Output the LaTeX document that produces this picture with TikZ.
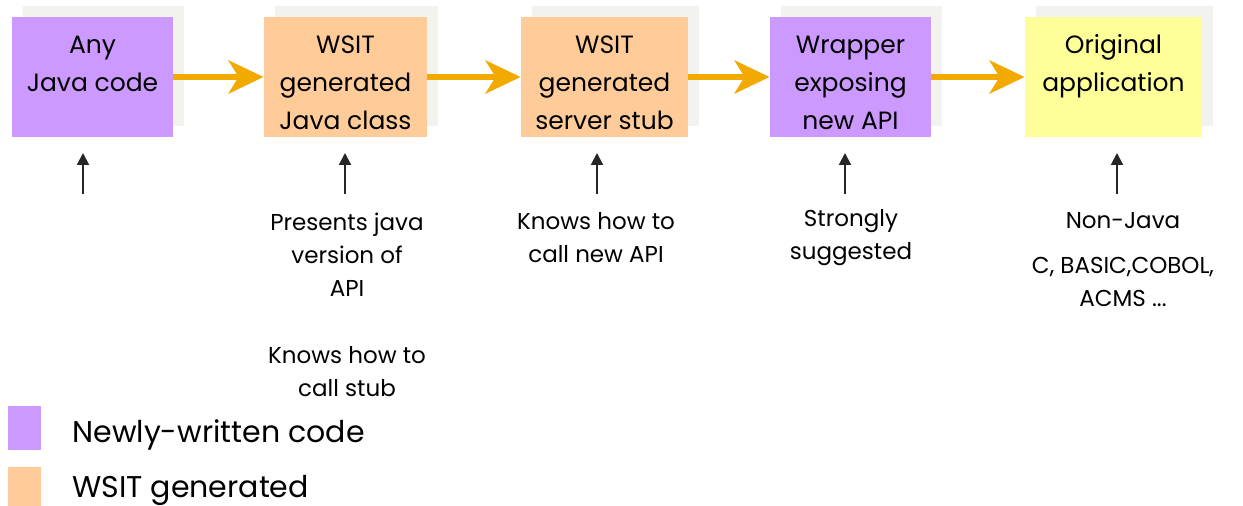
\documentclass[tikz,border=0pt]{standalone}
\usepackage{fontspec}
\setmainfont{Poppins}
\usetikzlibrary{arrows.meta,shadows,positioning}

\definecolor{newcode}{HTML}{CC99FF}
\definecolor{wsitgen}{HTML}{FFCC99}
\definecolor{origapp}{HTML}{FFFF99}
\definecolor{shade}{HTML}{F2F2EE}
\definecolor{flow}{HTML}{F2A900}

% box text hangs from its first line
\newcommand\blktext[1]{\begin{tabular}[t]{@{}c@{}}#1\end{tabular}}

\tikzset{
  blk/.style={minimum height=60pt, inner sep=0pt,
    text height=18.25pt, text depth=41.75pt,
    font=\fontsize{12.5}{18.9}\selectfont,
    general shadow={fill=shade, shadow xshift=5.5pt, shadow yshift=5.5pt}},
  flowarrow/.style={draw=flow, line width=3.2pt,
    -{Stealth[length=17.5pt,width=16.5pt,inset=5pt,fill=flow]}},
  uparr/.style={draw=black!85, line width=1pt, -{Triangle[length=6pt,width=6pt]}},
  note/.style={align=center, inner sep=0pt, font=\fontsize{11.5}{16.5}\selectfont},
  legsq/.style={minimum width=16.5pt, minimum height=22pt, inner sep=0pt},
  legtext/.style={inner sep=0pt, anchor=base west, font=\fontsize{15}{18}\selectfont},
}

\begin{document}
\begin{tikzpicture}[x=0.5pt,y=-0.5pt]
\useasboundingbox (0,0) rectangle (1243,506);

% the chain
\node[blk, fill=newcode, minimum width=80.5pt] (java)    at (92.5,77)   {\blktext{Any\\Java code}};
\node[blk, fill=wsitgen, minimum width=81.5pt] (cls)     at (345.5,77)  {\blktext{WSIT\\generated\\Java class}};
\node[blk, fill=wsitgen, minimum width=83.5pt] (stub)    at (604.5,77)  {\blktext{WSIT\\generated\\server stub}};
\node[blk, fill=newcode, minimum width=80.5pt] (wrapper) at (850.5,77)  {\blktext{Wrapper\\exposing\\new API}};
\node[blk, fill=origapp, minimum width=88.5pt] (orig)    at (1113.5,77) {\blktext{Original\\application}};

\foreach \a/\b in {java/cls,cls/stub,stub/wrapper,wrapper/orig}
  \draw[flowarrow] (\a) -- (\b);

% pointers
\foreach \n/\x in {1/83,2/345,3/597,4/845,5/1117}{
  \coordinate (lo\n) at (\x,194);
  \coordinate (hi\n) at (\x,153);
  \draw[uparr] (lo\n) -- (hi\n);
}

\node[note] (present) at (347,254.5) {Presents java\\version of\\API};
\node[note] (callstub) at (347,371.5) {Knows how to\\call stub};
\node[note] (callapi) at (596,237.5) {Knows how to\\call new API};
\node[note] (strong) at (851,237.5) {Strongly\\suggested};
\node[note] (nonjava) at (1123,221) {Non-Java};
\node[note] (langs) at (1123,282) {C, BASIC,COBOL,\\ACMS ...};

% legend
\node[legsq, fill=newcode] (lnew) at (24.5,428.5) {};
\node[legsq, fill=wsitgen] (lgen) at (24.5,489) {};
\node[legtext] (tnew) at (72,443) {Newly-written code};
\node[legtext] (tgen) at (72,498) {WSIT generated};
\end{tikzpicture}
\end{document}
